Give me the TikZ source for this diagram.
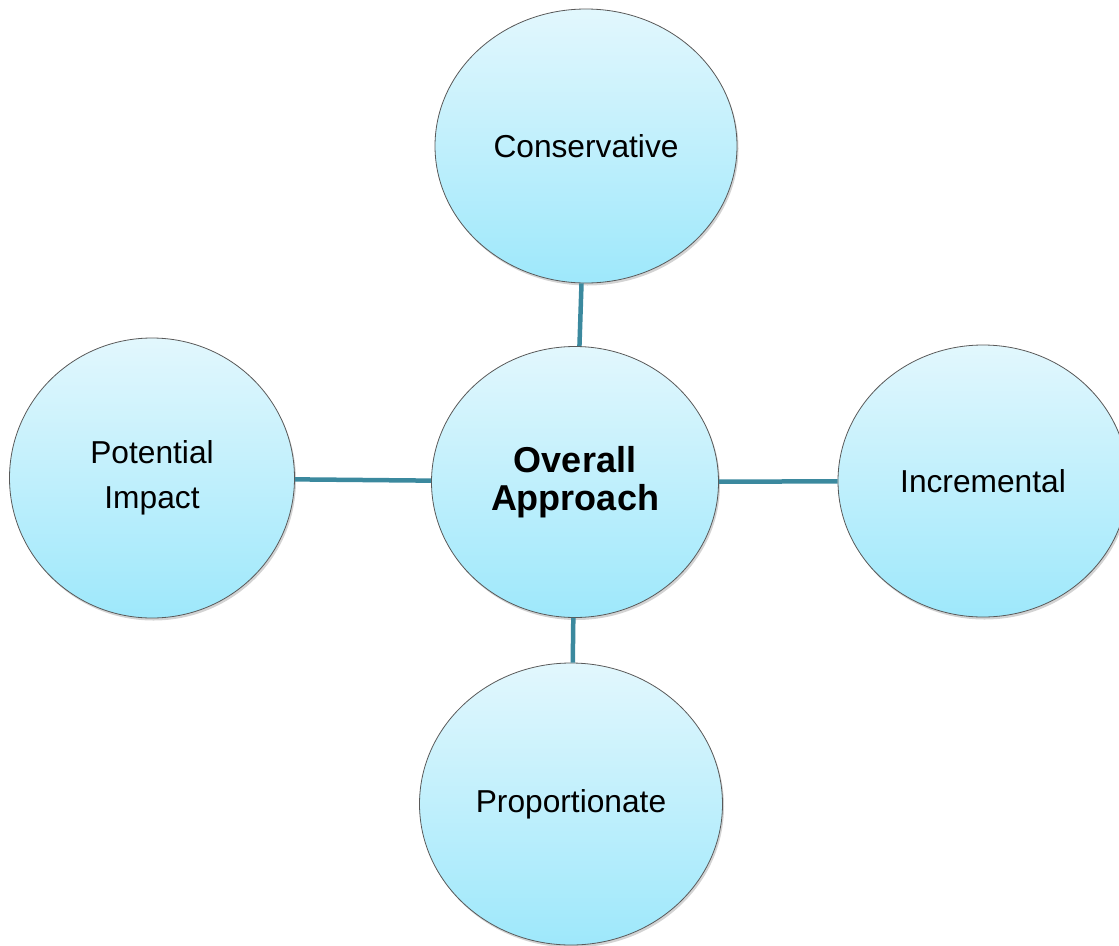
\documentclass[tikz,border=0pt]{standalone}
\usepackage{fontspec}
\setmainfont{Liberation Sans}
\usetikzlibrary{shapes.geometric,shadows}
\definecolor{linkteal}{RGB}{59,137,158}
\definecolor{topblue}{RGB}{226,247,253}
\definecolor{botblue}{RGB}{158,232,251}
\tikzset{
  bubble/.style={ellipse, draw=black!65, line width=0.8pt,
    top color=topblue, bottom color=botblue, inner sep=0pt, align=center,
    font=\fontsize{31.7}{45}\selectfont,
    drop shadow={opacity=0.35, shadow xshift=1.5pt, shadow yshift=-2.5pt}},
  link/.style={draw=linkteal, line width=4.5pt}
}
\begin{document}
\begin{tikzpicture}[x=1pt,y=-1pt]
\clip (0,0) rectangle (1119,945);
\node[bubble, minimum width=302pt, minimum height=274pt] (cons) at (586,146) {Conservative};
\node[bubble, minimum width=287pt, minimum height=271pt, font=\fontsize{36}{38}\selectfont\bfseries] (over) at (575,482) {Overall\\Approach};
\node[bubble, minimum width=285pt, minimum height=280pt] (pot) at (152,478) {Potential\\Impact};
\node[bubble, minimum width=290pt, minimum height=272pt] (inc) at (983,481) {Incremental};
\node[bubble, minimum width=303pt, minimum height=282pt] (prop) at (571,804) {Proportionate};
\draw[link] (cons) -- (over);
\draw[link] (pot) -- (over);
\draw[link] (over) -- (inc);
\draw[link] (over) -- (prop);
\end{tikzpicture}
\end{document}
